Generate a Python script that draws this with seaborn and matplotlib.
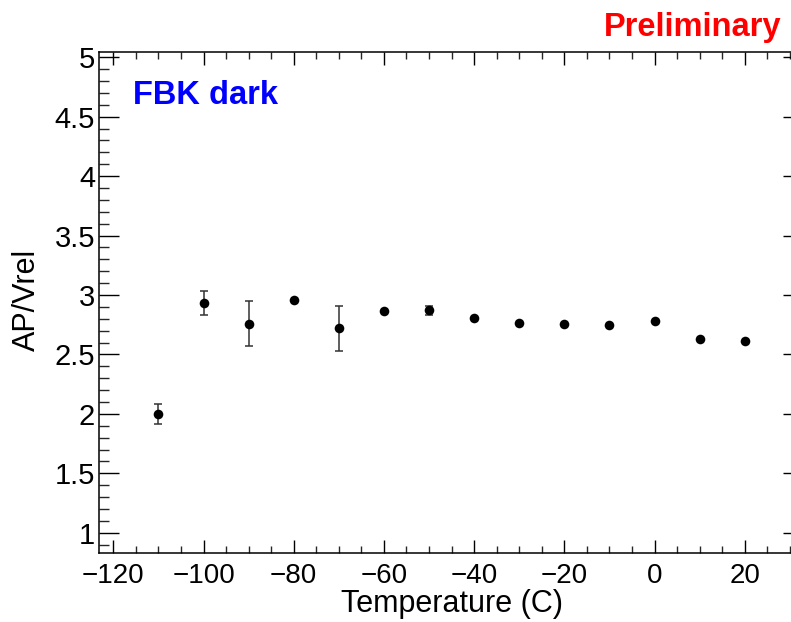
import matplotlib
matplotlib.use("Agg")
import matplotlib.pyplot as plt
import seaborn as sns
import pandas as pd
from matplotlib.ticker import MultipleLocator

temperature = [-110, -100, -90, -80, -70, -60, -50, -40, -30, -20, -10, 0, 10, 20]
ap_vrel = [2.00, 2.93, 2.76, 2.96, 2.72, 2.865, 2.87, 2.81, 2.762, 2.756, 2.748, 2.781, 2.632, 2.61]
ap_err = [0.087, 0.10, 0.19, 0.0, 0.19, 0.0, 0.04, 0.0, 0.0, 0.0, 0.0, 0.0, 0.0, 0.0]

df = pd.DataFrame({"T": temperature, "AP": ap_vrel, "err": ap_err})

sns.set_style("ticks")
plt.rcParams["font.family"] = ["Liberation Sans", "DejaVu Sans"]
plt.rcParams["text.color"] = "black"

W, H = 791, 622
fig = plt.figure(figsize=(W / 100, H / 100), dpi=100)
left, right, top, bottom = 99.3, 803.0, 52.3, 553.3
ax = fig.add_axes([left / W, 1 - bottom / H, (right - left) / W, (bottom - top) / H])

ax.errorbar(df["T"], df["AP"], yerr=df["err"], fmt="none", ecolor="#333333",
            elinewidth=1.1, capsize=2.6, capthick=1.1, zorder=2)
sns.scatterplot(data=df, x="T", y="AP", ax=ax, color="black", s=48,
                edgecolor="black", linewidth=0, zorder=3, legend=False)

ax.set_xlim(-123.1, 32.9)
ax.set_ylim(0.827, 5.042)
ax.xaxis.set_major_locator(MultipleLocator(20))
ax.xaxis.set_minor_locator(MultipleLocator(5))
ax.yaxis.set_major_locator(MultipleLocator(0.5))
ax.yaxis.set_minor_locator(MultipleLocator(0.1))

ax.set_xticks([-120, -100, -80, -60, -40, -20, 0, 20])
ax.set_xticklabels(["\u2212120", "\u2212100", "\u221280", "\u221260", "\u221240", "\u221220", "0", "20"])
ax.set_yticks([1, 1.5, 2, 2.5, 3, 3.5, 4, 4.5, 5])
ax.set_yticklabels(["1", "1.5", "2", "2.5", "3", "3.5", "4", "4.5", "5"])

ax.tick_params(axis="x", which="major", direction="in", length=9.4, width=1.0,
               top=True, bottom=True, labelsize=20, pad=7, colors="black")
ax.tick_params(axis="x", which="minor", direction="in", length=4.7, width=1.0,
               top=True, bottom=True)
ax.tick_params(axis="y", which="major", direction="in", length=14.4, width=1.0,
               left=True, right=True, labelsize=21, pad=3, colors="black")
ax.tick_params(axis="y", which="minor", direction="in", length=7.2, width=1.0,
               left=True, right=True)
for s in ax.spines.values():
    s.set_visible(True)
    s.set_linewidth(1.1)
    s.set_color("black")

ax.set_xlabel("")
ax.set_ylabel("")
fig.text(452 / W, 1 - 604 / H, "Temperature (C)", ha="center", va="center",
         fontsize=22, color="black")
fig.text(27 / W, 1 - 300 / H, "AP/Vrel", ha="center", va="center", rotation=90,
         fontsize=22, color="black")

fig.text(132.7 / W, 1 - 104.3 / H, "FBK dark", color=(0, 0, 1), fontsize=23.5,
         fontweight="bold", ha="left", va="baseline")
fig.text(781.7 / W, 1 - 36 / H, "Preliminary", color=(1, 0, 0), fontsize=23.5,
         fontweight="bold", ha="right", va="baseline")

fig.savefig("out.png", dpi=100)
